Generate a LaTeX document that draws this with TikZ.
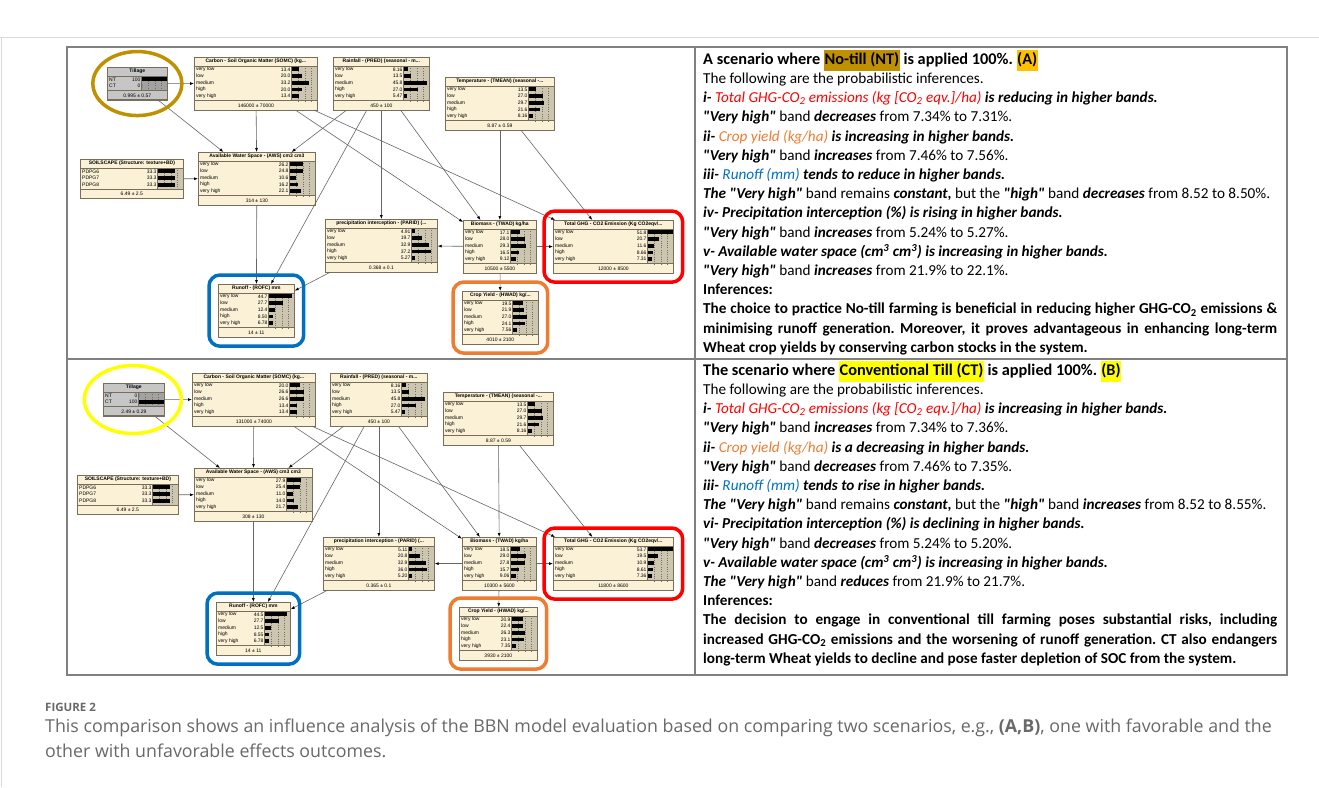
\documentclass[tikz,border=0pt]{standalone}
\usepackage{fontspec}
\setmainfont{Carlito}[Ligatures=TeXOff]
\newfontfamily\bbnfont{Liberation Sans}
\newfontfamily\capfont{Open Sans}
\usetikzlibrary{arrows.meta,fit,shapes.geometric}

\definecolor{bbnbg}{RGB}{250,241,214}
\definecolor{bbnedge}{RGB}{120,110,90}
\definecolor{tillgray}{RGB}{198,198,198}
\definecolor{ntgold}{RGB}{191,144,0}
\definecolor{agold}{RGB}{255,192,0}
\definecolor{ctyellow}{RGB}{255,255,0}
\definecolor{ghgred}{RGB}{255,0,0}
\definecolor{yieldorange}{RGB}{237,125,49}
\definecolor{runblue}{RGB}{0,112,192}
\definecolor{rulegray}{RGB}{128,128,128}
\definecolor{capgray}{RGB}{105,105,105}

\newcommand{\bfit}[1]{\textbf{\textit{#1}}}
\newcommand{\hilite}[2]{{\setlength{\fboxsep}{0.6pt}\colorbox{#1}{\strut #2}}}

\tikzset{
  bbnbox/.style={draw=bbnedge, line width=0.7pt, rectangle, anchor=north west, inner sep=0pt},
  bbnrule/.style={draw=bbnedge, line width=0.5pt},
  bbndots/.style={draw=bbnedge, line width=0.3pt, dotted},
  bbntitle/.style={font=\bbnfont\bfseries\fontsize{5}{6}\selectfont, inner sep=0pt},
  bbnlab/.style={font=\bbnfont\fontsize{5}{6}\selectfont, inner sep=0pt},
  link/.style={draw=black!60, line width=0.6pt, -{Latex[length=4pt,width=3pt,color=black]}},
  ring/.style={line width=3.5pt, rounded corners=11pt, inner sep=9pt},
  panel/.style={draw=rulegray, line width=1.2pt},
  story/.style={anchor=north west, inner sep=0pt, text width=574pt, align=justify,
    font=\fontsize{15.2}{19.2}\selectfont\frenchspacing},
}

% #1 fill, #2 name, #3 top left, #4 width, #5 rows, #6 title, #7 label/value list, #8 mean
\newcommand{\bbn}[8][bbnbg]{%
  \node[bbnbox, fill=#1, minimum width=#4, minimum height={19+6.7*#5}] (#2) at #3 {};
  \fill[black, fill opacity=0.18] ([xshift=-26, yshift=-9]#2.north east) rectangle ([yshift=9.5]#2.south east);
  \foreach \k in {1,2,3}
    \draw[bbndots] ([xshift={-26+6.5*\k}, yshift=-9]#2.north east) -- ([xshift={-26+6.5*\k}, yshift=9.5]#2.south east);
  \draw[bbnrule] ([yshift=-9]#2.north west) -- ([yshift=-9]#2.north east);
  \draw[bbnrule] ([yshift=9.5]#2.south west) -- ([yshift=9.5]#2.south east);
  \draw[bbnrule] ([xshift=-26, yshift=-9]#2.north east) -- ([xshift=-26, yshift=9.5]#2.south east);
  \node[bbntitle] at ([yshift=-4.5]#2.north) {#6};
  \node[bbnlab] at ([yshift=4.75]#2.south) {#8};
  \foreach \lab/\val [count=\i] in {#7} {
    \pgfmathsetmacro\bl{min(\val*0.5,25)}
    \node[bbnlab, anchor=west] at ([xshift=2, yshift={-9-6.7*\i+3.35}]#2.north west) {\lab};
    \node[bbnlab, anchor=east] at ([xshift=-27, yshift={-9-6.7*\i+3.35}]#2.north east) {\val};
    \fill ([xshift=-25.5, yshift={-9-6.7*\i+5.3}]#2.north east) rectangle ++(\bl, 3.9);
  }
  \draw[bbnedge, line width=0.7pt] (#2.north west) rectangle (#2.south east);
}

\begin{document}
\begin{tikzpicture}[x=1pt, y=-1pt]
  \useasboundingbox[fill=white] (0,0) rectangle (1319,787);
  \draw[black!15, line width=1pt] (0,37) -- (1319,37);
  \draw[black!15, line width=1pt] (1,37) -- (1,787);

  % table
  \draw[panel] (67,47) rectangle (1287,675);
  \draw[panel] (67,359) -- (1287,359);
  \draw[panel] (695,47) -- (695,675);

  % scenario A: no-till
  \bbn[tillgray]{tilA}{(107,67)}{60}{2}{Tillage}{NT/100, CT/0}{0.995 ± 0.57}
  \bbn{socA}{(194,57)}{123}{5}{Carbon - Soil Organic Matter (SOMC) (kg...}{very low/13.4, low/20.0, medium/33.2, high/20.0, very high/13.4}{146000 ± 70000}
  \bbn{rainA}{(333,57)}{96}{5}{Rainfall - (PRED) (seasonal - m...}{very low/8.16, low/13.5, medium/45.8, high/27.0, very high/5.47}{450 ± 100}
  \bbn{tempA}{(445,77)}{109}{5}{Temperature - (TMEAN) (seasonal -...}{very low/13.5, low/27.0, medium/29.7, high/21.6, very high/8.16}{8.87 ± 0.59}
  \bbn{soilA}{(80,159)}{103}{3}{SOILSCAPE (Structure: texture+BD)}{PDPG6/33.3, PDPG7/33.3, PDPG8/33.3}{6.49 ± 2.5}
  \bbn{awsA}{(198,152)}{117}{5}{Available Water Space - (AWS) cm3 cm3}{very low/26.2, low/24.8, medium/10.6, high/16.2, very high/22.1}{314 ± 130}
  \bbn{paridA}{(325,219)}{112}{5}{precipitation interception - (PARID) (...}{very low/4.91, low/19.7, medium/32.9, high/37.2, very high/5.27}{0.368 ± 0.1}
  \bbn{bioA}{(463,220)}{73}{5}{Biomass - (TWAD) kg/ha}{very low/17.1, low/28.0, medium/29.3, high/16.5, very high/9.12}{10500 ± 5500}
  \bbn{ghgA}{(553,220)}{120}{5}{Total GHG - CO2 Emission (Kg CO2eqv/...}{very low/51.8, low/20.7, medium/11.6, high/8.66, very high/7.31}{12000 ± 8500}
  \bbn{yieldA}{(462,291)}{76}{5}{Crop Yield - (HWAD) kg/...}{very low/19.5, low/21.9, medium/27.0, high/24.1, very high/7.56}{4010 ± 2100}
  \bbn{runA}{(218,284)}{76}{5}{Runoff - (ROFC) mm}{very low/44.7, low/27.7, medium/12.4, high/8.50, very high/6.78}{14 ± 11}

  % scenario B: conventional till
  \bbn[tillgray]{tilB}{(103,383)}{61}{2}{Tillage}{NT/0, CT/100}{2.49 ± 0.29}
  \bbn{socB}{(192,373)}{123}{5}{Carbon - Soil Organic Matter (SOMC) (kg...}{very low/20.0, low/26.6, medium/26.6, high/13.4, very high/13.4}{131000 ± 74000}
  \bbn{rainB}{(330,373)}{97}{5}{Rainfall - (PRED) (seasonal - m...}{very low/8.16, low/13.5, medium/45.8, high/27.0, very high/5.47}{450 ± 100}
  \bbn{tempB}{(443,392)}{110}{5}{Temperature - (TMEAN) (seasonal -...}{very low/13.5, low/27.0, medium/29.7, high/21.6, very high/8.16}{8.87 ± 0.59}
  \bbn{soilB}{(77,475)}{101}{3}{SOILSCAPE (Structure: texture+BD)}{PDPG6/33.3, PDPG7/33.3, PDPG8/33.3}{6.49 ± 2.5}
  \bbn{awsB}{(194,468)}{118}{5}{Available Water Space - (AWS) cm3 cm3}{very low/27.9, low/25.4, medium/11.0, high/14.0, very high/21.7}{308 ± 130}
  \bbn{paridB}{(323,537)}{111}{5}{precipitation interception - (PARID) (...}{very low/5.11, low/20.8, medium/32.9, high/36.0, very high/5.20}{0.365 ± 0.1}
  \bbn{bioB}{(462,537)}{74}{5}{Biomass - (TWAD) kg/ha}{very low/18.5, low/29.0, medium/27.8, high/15.7, very high/9.06}{10300 ± 5600}
  \bbn{ghgB}{(553,537)}{120}{5}{Total GHG - CO2 Emission (Kg CO2eqv/...}{very low/53.7, low/19.5, medium/10.9, high/8.61, very high/7.36}{11800 ± 8600}
  \bbn{yieldB}{(459,607)}{78}{5}{Crop Yield - (HWAD) kg/...}{very low/20.9, low/22.4, medium/26.3, high/23.1, very high/7.35}{3930 ± 2100}
  \bbn{runB}{(216,602)}{74}{5}{Runoff - (ROFC) mm}{very low/44.5, low/27.7, medium/12.5, high/8.55, very high/6.78}{14 ± 11}

  % links, same in both networks
  \foreach \p in {A,B} {
    \draw[link] (til\p) -- (soc\p);
    \draw[link] (til\p) -- (aws\p);
    \draw[link] (soc\p) -- (aws\p);
    \draw[link] (rain\p) -- (aws\p);
    \draw[link] (soil\p) -- (aws\p);
    \draw[link] (soc\p) -- (bio\p);
    \draw[link] (soc\p) -- (ghg\p);
    \draw[link] (rain\p) -- (parid\p);
    \draw[link] (rain\p) -- (bio\p);
    \draw[link] (rain\p) -- (run\p);
    \draw[link] (temp\p) -- (bio\p);
    \draw[link] (temp\p) -- (ghg\p);
    \draw[link] (aws\p) -- (run\p);
    \draw[link] (parid\p) -- (run\p);
    \draw[link] (bio\p) -- (parid\p);
    \draw[link] (bio\p) -- (ghg\p);
    \draw[link] (bio\p) -- (yield\p);
  }

  % highlight rings
  \node[draw=ntgold, line width=3.5pt, ellipse, minimum width=89, minimum height=64] (tilringA) at (tilA) {};
  \node[draw=ctyellow, line width=3.5pt, ellipse, minimum width=97, minimum height=68] (tilringB) at ([xshift=-1]tilB.center) {};
  \foreach \p in {A,B} {
    \node[ring, draw=ghgred, fit=(ghg\p)] (ghgring\p) {};
    \node[ring, draw=yieldorange, fit=(yield\p)] (yieldring\p) {};
    \node[ring, draw=runblue, fit=(run\p)] (runring\p) {};
  }

  % scenario texts
  \node[story] (txtA) at (703,50) {%
    {\fontsize{16.3}{19.2}\selectfont\textbf{A scenario where \hilite{ntgold}{No-till (NT)} is applied 100\%. \hilite{agold}{(A)}}}\par
    The following are the probabilistic inferences.\par
    \bfit{i- \textcolor{ghgred}{\mdseries Total GHG-CO\textsubscript{2} emissions (kg [CO\textsubscript{2} eqv.]/ha)} is reducing in higher bands.}\par
    \bfit{"Very high"} band \bfit{decreases} from 7.34\% to 7.31\%.\par
    \bfit{ii- \textcolor{yieldorange}{\mdseries Crop yield (kg/ha)} is increasing in higher bands.}\par
    \bfit{"Very high"} band \bfit{increases} from 7.46\% to 7.56\%.\par
    \bfit{iii- \textcolor{runblue}{\mdseries Runoff (mm)} tends to reduce in higher bands.}\par
    \bfit{The "Very high"} band remains \bfit{constant,} but the \bfit{"high"} band \bfit{decreases} from 8.52 to 8.50\%.\par
    \bfit{iv- Precipitation interception (\%) is rising in higher bands.}\par
    \bfit{"Very high"} band \bfit{increases} from 5.24\% to 5.27\%.\par
    \bfit{v- Available water space (cm\textsuperscript{3} cm\textsuperscript{3}) is increasing in higher bands.}\par
    \bfit{"Very high"} band \bfit{increases} from 21.9\% to 22.1\%.\par
    \textbf{Inferences:}\par
    \textbf{The choice to practice No-till farming is beneficial in reducing higher GHG-CO\textsubscript{2} emissions \&\linebreak
    minimising runoff generation. Moreover, it proves advantageous in enhancing long-term\linebreak
    Wheat crop yields by conserving carbon stocks in the system.}\par
  };
  \node[story] (txtB) at (703,361) {%
    {\fontsize{16.3}{19.2}\selectfont\textbf{The scenario where \hilite{ctyellow}{Conventional Till (CT)} is applied 100\%. \hilite{ctyellow}{(B)}}}\par
    The following are the probabilistic inferences.\par
    \bfit{i- \textcolor{ghgred}{\mdseries Total GHG-CO\textsubscript{2} emissions (kg [CO\textsubscript{2} eqv.]/ha)} is increasing in higher bands.}\par
    \bfit{"Very high"} band \bfit{increases} from 7.34\% to 7.36\%.\par
    \bfit{ii- \textcolor{yieldorange}{\mdseries Crop yield (kg/ha)} is a decreasing in higher bands.}\par
    \bfit{"Very high"} band \bfit{decreases} from 7.46\% to 7.35\%.\par
    \bfit{iii- \textcolor{runblue}{\mdseries Runoff (mm)} tends to rise in higher bands.}\par
    \bfit{The "Very high"} band remains \bfit{constant,} but the \bfit{"high"} band \bfit{increases} from 8.52 to 8.55\%.\par
    \bfit{vi- Precipitation interception (\%) is declining in higher bands.}\par
    \bfit{"Very high"} band \bfit{decreases} from 5.24\% to 5.20\%.\par
    \bfit{v- Available water space (cm\textsuperscript{3} cm\textsuperscript{3}) is increasing in higher bands.}\par
    \bfit{The "Very high"} band \bfit{reduces} from 21.9\% to 21.7\%.\par
    \textbf{Inferences:}\par
    \textbf{The decision to engage in conventional till farming poses substantial risks, including\linebreak
    increased GHG-CO\textsubscript{2} emissions and the worsening of runoff generation. CT also endangers\linebreak
    long-term Wheat yields to decline and pose faster depletion of SOC from the system.}\par
  };

  % caption
  \node[anchor=west, inner sep=0pt, text=capgray, font=\capfont\bfseries\fontsize{11.5}{13}\selectfont] (figlabel) at (45,707) {FIGURE 2};
  \node[anchor=north west, inner sep=0pt, align=left, text=capgray, font=\capfont\fontsize{17.8}{25}\selectfont] (figcap) at (45,719)
    {This comparison shows an influence analysis of the BBN model evaluation based on comparing two scenarios, e.g., \textbf{(A,B)}, one with favorable and the\\
     other with unfavorable effects outcomes.};
\end{tikzpicture}
\end{document}
